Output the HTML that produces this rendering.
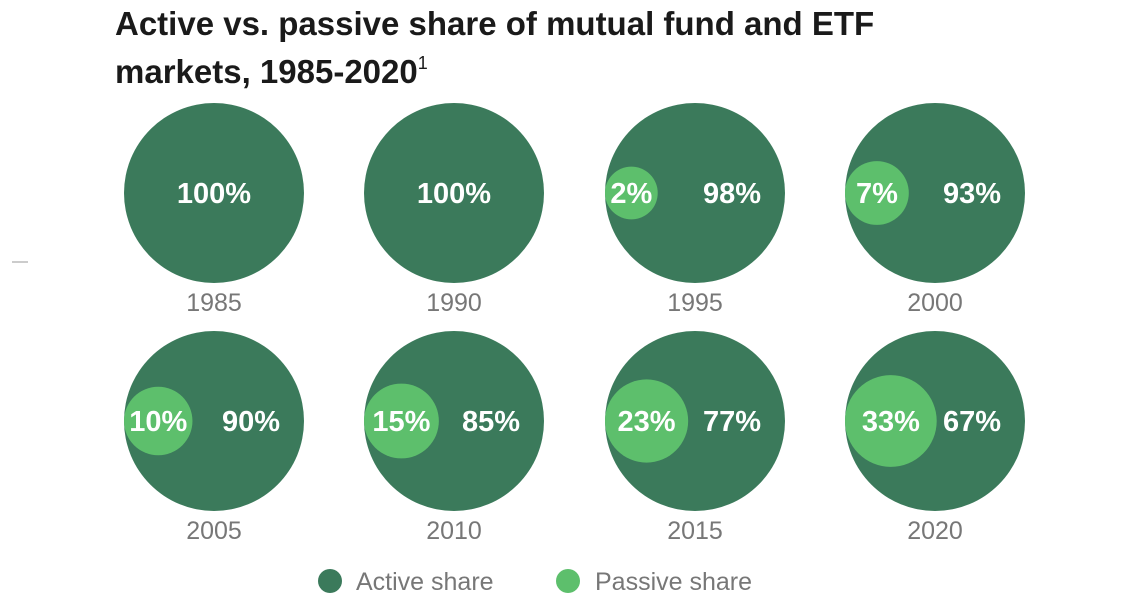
<!DOCTYPE html>
<html><head><meta charset="utf-8"><style>
body{margin:0;width:1125px;height:604px;background:#fff;overflow:hidden;font-family:"Liberation Sans",sans-serif;}
</style></head><body>
<svg width="1125" height="604" xmlns="http://www.w3.org/2000/svg">
<text x="115" y="35" font-size="33" font-weight="bold" fill="#1a1a1a">Active vs. passive share of mutual fund and ETF</text>
<text x="115" y="83" font-size="33" font-weight="bold" fill="#1a1a1a">markets, 1985-2020<tspan font-size="18" font-weight="normal" dy="-14">1</tspan></text>
<line x1="12" y1="262" x2="28" y2="262" stroke="#bbb" stroke-width="1.5"/>
<g id="plots"></g>
<g>
<circle cx="330" cy="581" r="12" fill="#3b7a5b"/>
<text x="356" y="590" font-size="25" fill="#777">Active share</text>
<circle cx="568" cy="581" r="12" fill="#5dbf6c"/>
<text x="595" y="590" font-size="25" fill="#777">Passive share</text>
</g>
</svg>
<script>
const years = ["1985","1990","1995","2000","2005","2010","2015","2020"];
const passive = [0,0,2,7,10,15,23,33];
const active = [100,100,98,93,90,85,77,67];
const NS="http://www.w3.org/2000/svg";
const g=document.getElementById('plots');
const R=90, colX=[214,454,695,935], rowY=[193,421];
function mk(t,a){const e=document.createElementNS(NS,t);for(const k in a)e.setAttribute(k,a[k]);return e;}
years.forEach((y,i)=>{
  const cx=colX[i%4], cy=rowY[Math.floor(i/4)];
  const big=mk('circle',{cx:cx,cy:cy,r:R,fill:'#3b7a5b'});
  
  
  g.appendChild(big);
  const p=passive[i];
  if(p>0){
    const r=20+R*Math.sqrt(p/100)*0.5;
    const pc=mk('circle',{cx:cx-R+r,cy:cy,r:r,fill:'#5dbf6c'});
    
    
    g.appendChild(pc);
    const pt=mk('text',{x:cx-R+r,y:cy+10,'font-size':29,'font-weight':'bold',fill:'#fff','text-anchor':'middle'});
    pt.textContent=p+'%';
    
    
    g.appendChild(pt);
    const at=mk('text',{x:cx+37,y:cy+10,'font-size':29,'font-weight':'bold',fill:'#fff','text-anchor':'middle'});
    at.textContent=active[i]+'%';
    
    
    g.appendChild(at);
  } else {
    const at=mk('text',{x:cx,y:cy+10,'font-size':29,'font-weight':'bold',fill:'#fff','text-anchor':'middle'});
    at.textContent=active[i]+'%';
    
    
    g.appendChild(at);
  }
  const yl=mk('text',{x:cx,y:cy+118,'font-size':25,fill:'#777','text-anchor':'middle'});
  yl.textContent=y;
  
  
  g.appendChild(yl);
});
</script>
</body></html>
